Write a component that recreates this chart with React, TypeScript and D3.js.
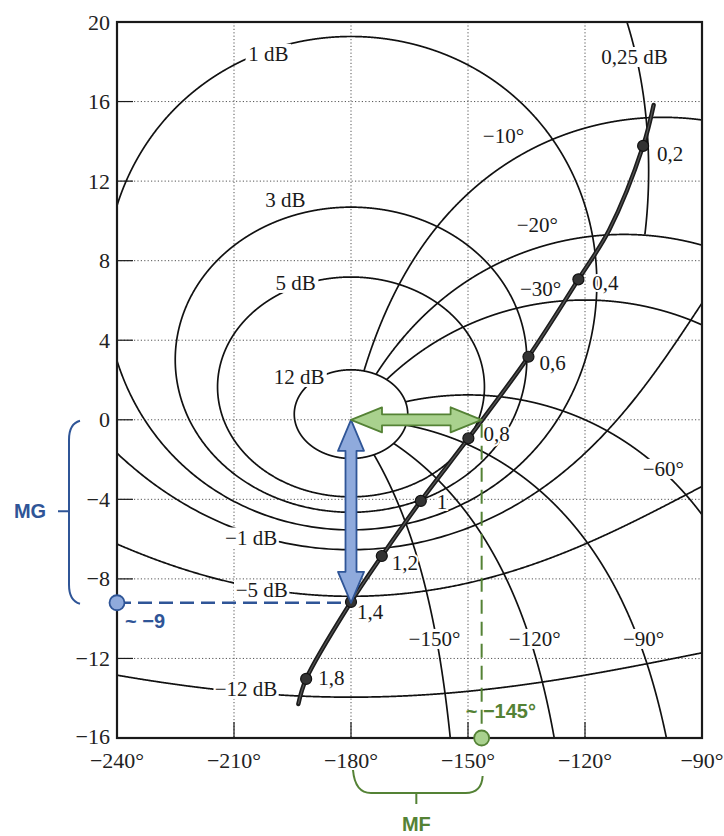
import React from 'react';
import * as d3 from 'd3';

// axes
const phaseTicks = [-240, -210, -180, -150, -120, -90];
const gainTicks = [-16, -12, -8, -4, 0, 4, 8, 12, 16, 20];

// Nichols grid: closed-loop magnitude (dB) and phase (deg) contours
const closedLoopGains = [12, 5, 3, 1, -1, -5, -12];
const partialGain = 0.25; // only drawn above the -20° contour
const closedLoopPhases = [-10, -20, -30, -60, -90, -120, -150];

// open-loop response
const responsePhase = [-102.4, -105.1, -113.8, -121.7, -134.5, -149.9, -162.1, -172.1, -180, -191.5, -193.5];
const responseGain = [15.83, 13.77, 9.54, 7.06, 3.17, -0.93, -4.08, -6.85, -9.16, -13.03, -14.29];

// labelled frequencies (rad/s)
const freqLabels = ['0,2', '0,4', '0,6', '0,8', '1', '1,2', '1,4', '1,8'];
const freqPhase = [-105.1, -121.7, -134.5, -149.9, -162.1, -172.1, -180, -191.5];
const freqGain = [13.77, 7.06, 3.17, -0.93, -4.08, -6.85, -9.16, -13.03];

// contour labels
const gainLabelText = ['0,25 dB', '1 dB', '3 dB', '5 dB', '12 dB', '\u22121 dB', '\u22125 dB', '\u221212 dB'];
const gainLabelPhase = [-107.3, -201.2, -196.8, -194.2, -193.3, -205.6, -202.9, -206.9];
const gainLabelGain = [18.24, 18.4, 11.05, 6.88, 2.15, -5.92, -8.56, -13.53];

const phaseLabelText = ['\u221210\u00b0', '\u221220\u00b0', '\u221230\u00b0', '\u221260\u00b0', '\u221290\u00b0', '\u2212120\u00b0', '\u2212150\u00b0'];
const phaseLabelPhase = [-140.9, -132.2, -131.4, -99.9, -105.0, -132.9, -158.6];
const phaseLabelGain = [14.27, 9.79, 6.58, -2.47, -11.02, -11.02, -11.02];

// margins
const crossoverPhase = -146.5;
const gainAtMinus180 = -9.2;
const phaseMarginText = '~ \u2212145\u00b0';
const gainMarginText = '~ \u22129';

const rad = Math.PI / 180;
const BLUE = '#2f5597';
const BLUE_FILL = '#8faadc';
const GREEN = '#548235';
const GREEN_FILL = '#a9d18e';
const INK = '#1a1a1a';
const SERIF = "'Liberation Serif', 'Times New Roman', 'DejaVu Serif', serif";
const SANS = "'Liberation Sans', Arial, sans-serif";
const FS = 21;

type P = { ph: number; db: number; ok: boolean; cl?: number };

function wrapPhase(a: number) {
  let d = a;
  while (d > 180) d -= 360;
  while (d <= -180) d += 360;
  return d;
}

// M-circle in the G plane mapped to (phase, dB)
function mContour(db: number): P[] {
  const M = Math.pow(10, db / 20);
  const k = M * M - 1;
  const c = -M * M / k;
  const r = Math.abs(M / k);
  return d3.range(1, 2880).map((i) => {
    const t = (i / 2880) * 2 * Math.PI;
    const gx = c + r * Math.cos(t);
    const gy = r * Math.sin(t);
    let ph = Math.atan2(gy, gx) / rad;
    if (ph > 0) ph -= 360;
    const cl = wrapPhase(ph - Math.atan2(gy, 1 + gx) / rad);
    return { ph, db: 20 * Math.log10(Math.hypot(gx, gy)), ok: true, cl };
  });
}

// constant closed-loop phase contour, right half only, outside the 12 dB loop
function nContour(psi: number): P[] {
  const s = Math.sin(psi * rad);
  const n = 3000;
  return d3.range(0, n + 1).map((i) => {
    const ph = -180 + (psi + 180) * (i / n);
    const m = Math.sin((ph - psi) * rad) / s;
    const gx = m * Math.cos(ph * rad);
    const gy = m * Math.sin(ph * rad);
    const cl = 20 * Math.log10(m / Math.hypot(1 + gx, gy));
    const db = 20 * Math.log10(m);
    return { ph, db, ok: isFinite(db) && db > -40 && cl <= 12 };
  });
}

function blockArrow(x1: number, y1: number, x2: number, y2: number, sw: number, hw: number, hl: number) {
  const dx = x2 - x1, dy = y2 - y1, L = Math.hypot(dx, dy);
  const ux = dx / L, uy = dy / L, nx = -uy, ny = ux;
  const p = (a: number, b: number) => [x1 + ux * a + nx * b, y1 + uy * a + ny * b];
  const pts = [p(0, 0), p(hl, hw / 2), p(hl, sw / 2), p(L - hl, sw / 2), p(L - hl, hw / 2), p(L, 0),
    p(L - hl, -hw / 2), p(L - hl, -sw / 2), p(hl, -sw / 2), p(hl, -hw / 2)];
  return pts.map((q) => q.map((v) => v.toFixed(1)).join(',')).join(' ');
}

// rough text width for the white boxes behind contour labels
const textWidth = (t: string) => t.length * FS * 0.47;

const App = () => {
  const x = d3.scaleLinear().domain([-240, -90]).range([117, 702]);
  const y = d3.scaleLinear().domain([-16, 20]).range([738, 22]);
  const [x0, x1] = x.range();
  const [yb, yt] = y.range();

  const line = d3.line<P>().defined((d) => d.ok).x((d) => x(d.ph)).y((d) => y(d.db));

  const mPaths = closedLoopGains.map((g) => line(mContour(g)) || '');
  const partial = mContour(partialGain).map((d) => ({ ...d, ok: d.ph > -180 && (d.cl as number) >= -20 }));
  const partialPath = line(partial) || '';
  const nPaths = closedLoopPhases.map((p) => line(nContour(p)) || '');

  const response = responsePhase.map((ph, i) => ({ ph, db: responseGain[i], ok: true }));
  const responsePath = d3.line<P>().x((d) => x(d.ph)).y((d) => y(d.db)).curve(d3.curveCatmullRom.alpha(0.5))(response) || '';

  const freqDx = [14, 14, 11, 15, 16, 10, 6, 12];
  const freqDy = [8, 4, 6, -4, 1, 7, 10, -1];

  const cx = x(-180);
  const cy0 = y(0);
  const gmY = y(gainAtMinus180);
  const pmX = x(crossoverPhase);

  const labels = [
    ...gainLabelText.map((t, i) => ({ t, px: x(gainLabelPhase[i]), py: y(gainLabelGain[i]) })),
    ...phaseLabelText.map((t, i) => ({ t, px: x(phaseLabelPhase[i]), py: y(phaseLabelGain[i]) })),
  ];

  return (
    <svg width={724} height={836} style={{ position: 'absolute', left: 0, top: 0, background: '#fff' }}>
      <defs>
        <clipPath id="plot">
          <rect x={x0} y={yt} width={x1 - x0} height={yb - yt} />
        </clipPath>
      </defs>
      <rect x={0} y={0} width={724} height={836} fill="#fff" />

      {/* grid */}
      <g stroke="#555" strokeWidth={1} strokeDasharray="1.2,2.2">
        {phaseTicks.slice(1, -1).map((t) => (
          <line key={'gx' + t} x1={x(t)} x2={x(t)} y1={yt} y2={yb} />
        ))}
        {gainTicks.slice(1, -1).map((t) => (
          <line key={'gy' + t} x1={x0} x2={x1} y1={y(t)} y2={y(t)} />
        ))}
      </g>
      <g stroke={INK} strokeWidth={1.2}>
        {phaseTicks.slice(1, -1).map((t) => (
          <line key={'tx' + t} x1={x(t)} x2={x(t)} y1={yb} y2={yb - 16} />
        ))}
        {gainTicks.slice(1, -1).map((t) => (
          <line key={'ty' + t} x1={x0} x2={x0 + 16} y1={y(t)} y2={y(t)} />
        ))}
      </g>

      {/* contours */}
      <g clipPath="url(#plot)" fill="none" stroke="#111" strokeWidth={1.7}>
        {mPaths.map((d, i) => <path key={'m' + i} d={d} />)}
        <path d={partialPath} />
        {nPaths.map((d, i) => <path key={'n' + i} d={d} />)}
      </g>

      {/* contour labels on white boxes */}
      {labels.map((l, i) => (
        <rect key={'lb' + i} x={l.px - textWidth(l.t) / 2 - 3} y={l.py - 10} width={textWidth(l.t) + 6} height={20} fill="#fff" />
      ))}
      <g style={{ fontFamily: SERIF, fontSize: FS }} fill={INK} textAnchor="middle" dominantBaseline="central">
        {labels.map((l, i) => (
          <text key={'lt' + i} x={l.px} y={l.py}>{l.t}</text>
        ))}
      </g>

      {/* open-loop response */}
      <path d={responsePath} fill="none" stroke="#1c1c1c" strokeWidth={4.4} strokeLinecap="round" />
      <path d={responsePath} fill="none" stroke="#555" strokeWidth={1.2} />
      {freqPhase.map((ph, i) => (
        <circle key={'f' + i} cx={x(ph)} cy={y(freqGain[i])} r={5.5} fill="#333" stroke="#111" strokeWidth={1.2} />
      ))}
      <g style={{ fontFamily: SERIF, fontSize: FS }} fill={INK} dominantBaseline="central">
        {freqLabels.map((t, i) => (
          <text key={'fl' + i} x={x(freqPhase[i]) + freqDx[i]} y={y(freqGain[i]) + freqDy[i]}
            stroke="#fff" strokeWidth={4} paintOrder="stroke">{t}</text>
        ))}
      </g>

      {/* frame */}
      <rect x={x0} y={yt} width={x1 - x0} height={yb - yt} fill="none" stroke={INK} strokeWidth={2.2} />

      {/* tick labels */}
      <g style={{ fontFamily: SERIF, fontSize: 22 }} fill="#222">
        {gainTicks.map((t) => (
          <text key={'yl' + t} x={x0 - 7} y={y(t) - (t === -16 ? 2 : 0)} textAnchor="end" dominantBaseline="central">
            {t < 0 ? '\u2212' + Math.abs(t) : String(t)}
          </text>
        ))}
        {phaseTicks.map((t) => (
          <text key={'xl' + t} x={x(t)} y={yb + 22} textAnchor="middle" dominantBaseline="central">
            {'\u2212' + Math.abs(t) + '\u00b0'}
          </text>
        ))}
      </g>

      {/* gain margin */}
      <line x1={x0} x2={cx - 4} y1={gmY} y2={gmY} stroke={BLUE} strokeWidth={2.4} strokeDasharray="14,7" />
      <polygon points={blockArrow(cx, cy0, cx, gmY, 11, 26, 31)} fill={BLUE_FILL} stroke={BLUE} strokeWidth={1.8} strokeLinejoin="round" />
      <circle cx={x0} cy={gmY} r={7.5} fill={BLUE_FILL} stroke={BLUE} strokeWidth={1.8} />
      <text x={x0 + 8} y={gmY + 18} style={{ fontFamily: SANS, fontWeight: 'bold', fontSize: 20 }} fill={BLUE} dominantBaseline="central">{gainMarginText}</text>
      <path d={`M${x0 - 37},${cy0 + 1} Q${x0 - 48},${cy0 + 4} ${x0 - 48},${cy0 + 20} L${x0 - 48},${gmY - 18} Q${x0 - 48},${gmY - 2} ${x0 - 37},${gmY + 1} M${x0 - 48},${(cy0 + gmY) / 2} L${x0 - 59},${(cy0 + gmY) / 2}`}
        fill="none" stroke={BLUE} strokeWidth={2} />
      <text x={30} y={(cy0 + gmY) / 2} style={{ fontFamily: SANS, fontWeight: 'bold', fontSize: 20 }} fill={BLUE} textAnchor="middle" dominantBaseline="central">MG</text>

      {/* phase margin */}
      <line x1={pmX} x2={pmX} y1={cy0 + 4} y2={yb - 6} stroke={GREEN} strokeWidth={2} strokeDasharray="14,8" />
      <polygon points={blockArrow(cx, cy0, pmX, cy0, 11, 25, 31)} fill={GREEN_FILL} stroke={GREEN} strokeWidth={1.8} strokeLinejoin="round" />
      <circle cx={pmX} cy={yb} r={7.5} fill={GREEN_FILL} stroke={GREEN} strokeWidth={1.8} />
      <text x={pmX - 16} y={yb - 27} style={{ fontFamily: SANS, fontWeight: 'bold', fontSize: 20 }} fill={GREEN} dominantBaseline="central">{phaseMarginText}</text>
      <path d={`M${cx + 2},${yb + 32} Q${cx + 4},${yb + 55} ${cx + 20},${yb + 55} L${pmX - 16},${yb + 55} Q${pmX},${yb + 55} ${pmX + 1},${yb + 38} M${(cx + pmX) / 2},${yb + 55} L${(cx + pmX) / 2},${yb + 66}`}
        fill="none" stroke={GREEN} strokeWidth={2} />
      <text x={(cx + pmX) / 2} y={yb + 86} style={{ fontFamily: SANS, fontWeight: 'bold', fontSize: 20 }} fill={GREEN} textAnchor="middle" dominantBaseline="central">MF</text>
    </svg>
  );
};

export default App;
